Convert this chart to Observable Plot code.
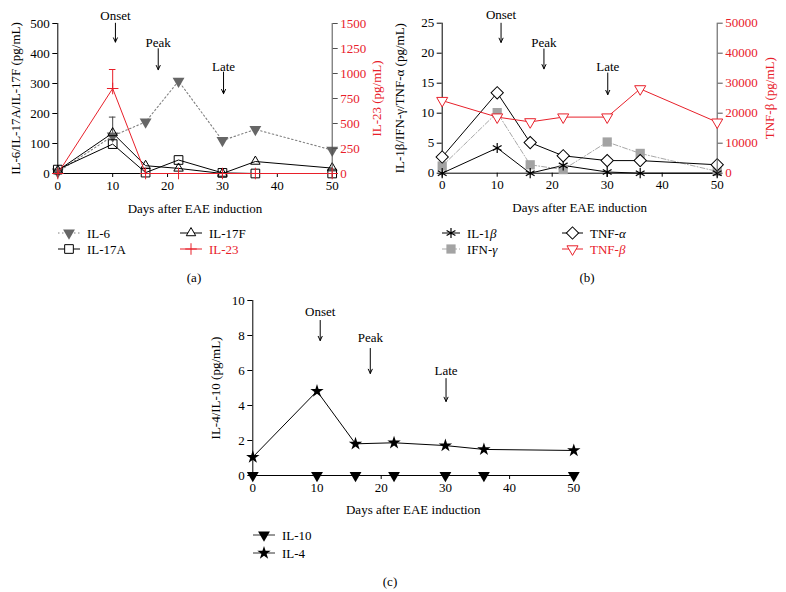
<!DOCTYPE html>
<html><head><meta charset="utf-8">
<script src="https://cdn.jsdelivr.net/npm/d3@7"></script>
<script src="https://cdn.jsdelivr.net/npm/@observablehq/plot@0.6"></script>
<style>
html,body{margin:0;padding:0;background:#fff;}
#root{position:relative;width:786px;height:592px;overflow:hidden;background:#fff;}
</style></head><body><div id="root"></div>
<script>
// ---------- data ----------
const days = [0, 10, 16, 22, 30, 36, 50];
const xTicks = [0, 10, 20, 30, 40, 50];
const xLabel = "Days after EAE induction";
const phases = ["Onset", "Peak", "Late"];

// panel (a)
const namesA = ["IL-6", "IL-17A", "IL-17F", "IL-23"];
const il6 = [5, 125, 172, 308, 110, 147, 78];
const il17a = [13, 98, 3, 45, 2, 0, 0];
const il17f = [10, 135, 26, 17, 0, 40, 18];
const il23 = [0, 850, 0, 0, 0, 0, 0];
const errA = [{day: 10, lo: 135, hi: 188}];
const errA2 = [{day: 10, lo: 850, hi: 1040}];
const yTicksA = [0, 100, 200, 300, 400, 500];
const yTicksA2 = [0, 250, 500, 750, 1000, 1250, 1500];
const yLabelA = "IL-6/IL-17A/IL-17F (pg/mL)";
const yLabelA2 = "IL-23 (pg/mL)";
const phaseDayA = [10.5, 18.3, 30.2];
const phaseTextA = [527, 434, 357];
const phaseTopA = [501, 416, 338];
const phaseBotA = [438, 346, 266];

// panel (b)
const namesB = ["IL-1β", "IFN-γ", "TNF-α", "TNF-β"];
const il1b = [0, 4.2, 0, 1.3, 0.2, 0, 0];
const ifng = [1.2, 10.1, 1.4, 0.6, 5.2, 3.3, 0.3];
const tnfa = [2.7, 13.4, 5.1, 2.9, 2.1, 2.1, 1.4];
const tnfb = [24200, 18700, 17100, 18700, 18700, 28100, 17000];
const yTicksB = [0, 5, 10, 15, 20, 25];
const yTicksB2 = [0, 10000, 20000, 30000, 40000, 50000];
const yLabelB = "IL-1β/IFN-γ/TNF-α (pg/mL)";
const yLabelB2 = "TNF-β (pg/mL)";
const phaseDayB = [10.7, 18.5, 30.1];
const phaseTextB = [26.4, 21.7, 17.8];
const phaseTopB = [25.0, 20.7, 16.7];
const phaseBotB = [21.8, 17.4, 13.1];

// panel (c)
const namesC = ["IL-10", "IL-4"];
const il10 = [0, 0, 0, 0, 0, 0, 0];
const il4 = [1.05, 4.82, 1.81, 1.87, 1.71, 1.49, 1.43];
const yTicksC = [0, 2, 4, 6, 8, 10];
const yLabelC = "IL-4/IL-10 (pg/mL)";
const phaseDayC = [10.5, 18.3, 30.1];
const phaseTextC = [9.37, 7.89, 6.0];
const phaseTopC = [8.86, 7.26, 5.54];
const phaseBotC = [7.71, 5.83, 4.23];

const captions = ["(a)", "(b)", "(c)"];

// ---------- helpers ----------
const RED = "#e8202a";
const FONT = '"Liberation Serif", "Times New Roman", serif';
const root = document.getElementById("root");
const rows = vals => days.map((d, i) => ({day: d, v: vals[i]}));
const baseStyle = {fontFamily: FONT, fontSize: "13px", background: "transparent", overflow: "visible", color: "black"};

function place(el, left, top) {
  el.style.position = "absolute";
  el.style.left = left + "px";
  el.style.top = top + "px";
  el.style.maxWidth = "none";
  root.appendChild(el);
}
function plotFrame(g, yDomain, marks) {
  return Plot.plot({
    width: g.w, height: g.h,
    marginLeft: g.ml, marginRight: g.mr, marginTop: g.mt, marginBottom: g.mb,
    x: {domain: [0, 50], axis: null},
    y: {domain: yDomain, axis: null},
    style: baseStyle,
    marks
  });
}
function phaseMarks(dayArr, textY, topY, botY) {
  return [
    Plot.text(phases, {x: (d, i) => dayArr[i], y: (d, i) => textY[i], text: d => d, fill: "black",
      textAnchor: "middle", lineAnchor: "middle"}),
    Plot.arrow(phases, {x1: (d, i) => dayArr[i], x2: (d, i) => dayArr[i], y1: (d, i) => topY[i], y2: (d, i) => botY[i],
      stroke: "black", strokeWidth: 1, headLength: 7, headAngle: 50})
  ];
}
function leftAxes(ticks, label, labelDx, xlabDy) {
  return [
    Plot.ruleY([ticks[0]], {stroke: "black"}),
    Plot.ruleX([0], {stroke: "black"}),
    Plot.axisX({ticks: xTicks, tickSize: 4, tickPadding: 3, label: null, tickFormat: d => String(d)}),
    Plot.axisY({ticks, tickSize: 5, tickPadding: 3, label: null, tickFormat: d => String(d)}),
    Plot.text([label], {frameAnchor: "left", dx: labelDx, rotate: -90, text: d => d,
      textAnchor: "middle", lineAnchor: "middle"}),
    Plot.text([xLabel], {frameAnchor: "bottom", dy: xlabDy, text: d => d,
      textAnchor: "middle", lineAnchor: "middle"})
  ];
}
function rightAxes(ticks, label, labelDx) {
  return [
    Plot.ruleX([50], {stroke: "#505050"}),
    Plot.axisY({anchor: "right", ticks, tickSize: 5, tickPadding: 3, label: null, stroke: "#505050", fill: RED, tickFormat: d => String(d)}),
    Plot.text([label], {frameAnchor: "right", dx: labelDx, rotate: -90, fill: RED, text: d => d,
      textAnchor: "middle", lineAnchor: "middle"})
  ];
}

// ---------- panel (a) ----------
const gA = {w: 400, h: 220, ml: 57.3, mr: 68.3, mt: 23, mb: 47};
const pA = plotFrame(gA, [0, 500], [
  ...leftAxes(yTicksA, yLabelA, -42, 35),
  ...phaseMarks(phaseDayA, phaseTextA, phaseTopA, phaseBotA),
  Plot.line(rows(il6), {x: "day", y: "v", stroke: "#808080", strokeWidth: 1.1, strokeDasharray: "1.5,2.5"}),
  Plot.line(rows(il17a), {x: "day", y: "v", stroke: "black", strokeWidth: 1}),
  Plot.line(rows(il17f), {x: "day", y: "v", stroke: "black", strokeWidth: 1}),
  Plot.ruleX(errA, {x: "day", y1: "lo", y2: "hi", stroke: "#444"}),
  Plot.ruleY(errA, {y: "hi", x1: d => d.day - 0.6, x2: d => d.day + 0.6, stroke: "#444"}),
  Plot.dot(rows(il6), {x: "day", y: "v", symbol: "triangle", rotate: 180, r: 4.4, fill: "#666", stroke: "none"}),
  Plot.dot(rows(il17a), {x: "day", y: "v", symbol: "square", r: 4.9, fill: "white", fillOpacity: 0, stroke: "black", strokeWidth: 1}),
  Plot.dot(rows(il17f), {x: "day", y: "v", symbol: "triangle", r: 3.5, fill: "white", fillOpacity: 0, stroke: "black", strokeWidth: 1})
]);
place(pA, 0, 0);
const pA2 = plotFrame(gA, [0, 1500], [
  ...rightAxes(yTicksA2, yLabelA2, 45),
  Plot.line(rows(il23), {x: "day", y: "v", stroke: RED, strokeWidth: 1}),
  Plot.ruleX(errA2, {x: "day", y1: "lo", y2: "hi", stroke: RED}),
  Plot.ruleY(errA2, {y: "hi", x1: d => d.day - 0.6, x2: d => d.day + 0.6, stroke: RED}),
  Plot.dot(rows(il23), {x: "day", y: "v", symbol: "plus", r: 3.8, stroke: RED, strokeWidth: 1})
]);
place(pA2, 0, 0);

// ---------- panel (b) ----------
const gB = {w: 396, h: 220, ml: 51.7, mr: 69.3, mt: 22.7, mb: 47.3};
const pB = plotFrame(gB, [0, 25], [
  ...leftAxes(yTicksB, yLabelB, -42, 35),
  ...phaseMarks(phaseDayB, phaseTextB, phaseTopB, phaseBotB),
  Plot.line(rows(ifng), {x: "day", y: "v", stroke: "#a8a8a8", strokeWidth: 1, strokeDasharray: "5,2,1,2"}),
  Plot.line(rows(il1b), {x: "day", y: "v", stroke: "black", strokeWidth: 1}),
  Plot.line(rows(tnfa), {x: "day", y: "v", stroke: "black", strokeWidth: 1}),
  Plot.dot(rows(ifng), {x: "day", y: "v", symbol: "square", r: 5.2, fill: "#a3a3a3", stroke: "none"}),
  Plot.dot(rows(il1b), {x: "day", y: "v", symbol: "asterisk", r: 4.8, stroke: "black", strokeWidth: 1.2}),
  Plot.dot(rows(tnfa), {x: "day", y: "v", symbol: "square", rotate: 45, r: 4.9, fill: "white", stroke: "black", strokeWidth: 1})
]);
place(pB, 390, 0);
const pB2 = plotFrame(gB, [0, 50000], [
  ...rightAxes(yTicksB2, yLabelB2, 53),
  Plot.line(rows(tnfb), {x: "day", y: "v", stroke: RED, strokeWidth: 1}),
  Plot.dot(rows(tnfb), {x: "day", y: "v", symbol: "triangle", rotate: 180, r: 4.1, fill: "white", stroke: RED, strokeWidth: 1})
]);
place(pB2, 390, 0);

// ---------- panel (c) ----------
const gC = {w: 400, h: 230, ml: 62.3, mr: 16.7, mt: 10, mb: 45};
const pC = plotFrame(gC, [0, 10], [
  ...leftAxes(yTicksC, yLabelC, -37, 34),
  ...phaseMarks(phaseDayC, phaseTextC, phaseTopC, phaseBotC),
  Plot.line(rows(il10), {x: "day", y: "v", stroke: "black", strokeWidth: 1}),
  Plot.line(rows(il4), {x: "day", y: "v", stroke: "black", strokeWidth: 1}),
  Plot.dot(rows(il10), {x: "day", y: "v", symbol: "triangle", rotate: 180, r: 4.4, fill: "black", stroke: "none"}),
  Plot.dot(rows(il4), {x: "day", y: "v", symbol: "star", r: 4.2, fill: "black", stroke: "none"})
]);
place(pC, 190, 290);

// ---------- legends & captions ----------
const svg = d3.create("svg").attr("width", 786).attr("height", 592)
  .style("font-family", FONT).style("font-size", "13px");
function legendItem(o) {
  const g = svg.append("g");
  g.append("line").attr("x1", o.x0).attr("x2", o.x1).attr("y1", o.y).attr("y2", o.y)
    .attr("stroke", o.line).attr("stroke-width", 1).attr("stroke-dasharray", o.dash || null);
  g.append("path").attr("d", d3.symbol(o.sym, Math.PI * o.r * o.r)())
    .attr("transform", `translate(${(o.x0 + o.x1) / 2},${o.y}) rotate(${o.rot || 0})`)
    .attr("fill", o.fill).attr("stroke", o.stroke || "none").attr("stroke-width", o.sw || 1);
  const t = g.append("text").attr("x", o.x1 + 7).attr("y", o.y).attr("dy", "0.35em").attr("fill", o.color || "black");
  // italicise Greek letters as in the reference
  const parts = o.label.split(/([α-ω])/);
  parts.forEach(p => { if (p) t.append("tspan").attr("font-style", /[α-ω]/.test(p) ? "italic" : null).text(p); });
}
// (a)
legendItem({x0: 58, x1: 80, y: 233, sym: d3.symbolTriangle, rot: 180, r: 4.4, fill: "#666", line: "#808080", dash: "1.5,2.5", label: namesA[0]});
legendItem({x0: 58, x1: 80, y: 249, sym: d3.symbolSquare, r: 4.9, fill: "white", stroke: "black", line: "black", label: namesA[1]});
legendItem({x0: 180, x1: 202, y: 233, sym: d3.symbolTriangle, r: 3.5, fill: "white", stroke: "black", line: "black", label: namesA[2]});
legendItem({x0: 180, x1: 202, y: 249, sym: d3.symbolPlus, r: 3.8, fill: "none", stroke: RED, line: RED, label: namesA[3], color: RED});
// (b)
legendItem({x0: 442, x1: 460, y: 233, sym: d3.symbolAsterisk, r: 4.8, fill: "none", stroke: "black", sw: 1.2, line: "black", label: namesB[0]});
legendItem({x0: 442, x1: 460, y: 249, sym: d3.symbolSquare, r: 5.2, fill: "#a3a3a3", line: "#a8a8a8", dash: "5,2,1,2", label: namesB[1]});
legendItem({x0: 562, x1: 583, y: 233, sym: d3.symbolSquare, rot: 45, r: 4.9, fill: "white", stroke: "black", line: "black", label: namesB[2]});
legendItem({x0: 562, x1: 583, y: 249, sym: d3.symbolTriangle, rot: 180, r: 4.1, fill: "white", stroke: RED, line: RED, label: namesB[3], color: RED});
// (c)
legendItem({x0: 253, x1: 275, y: 535, sym: d3.symbolTriangle, rot: 180, r: 4.4, fill: "black", line: "#333", label: namesC[0]});
legendItem({x0: 253, x1: 275, y: 553, sym: d3.symbolStar, r: 4.2, fill: "black", line: "#333", label: namesC[1]});
// captions
const capPos = [[194, 277], [587, 277], [390, 581]];
captions.forEach((c, i) => svg.append("text").attr("x", capPos[i][0]).attr("y", capPos[i][1]).attr("dy", "0.35em")
  .attr("text-anchor", "middle").text(c));
const legNode = svg.node();
legNode.style.position = "absolute"; legNode.style.left = "0px"; legNode.style.top = "0px";
root.insertBefore(legNode, root.firstChild);
</script>
</body></html>
